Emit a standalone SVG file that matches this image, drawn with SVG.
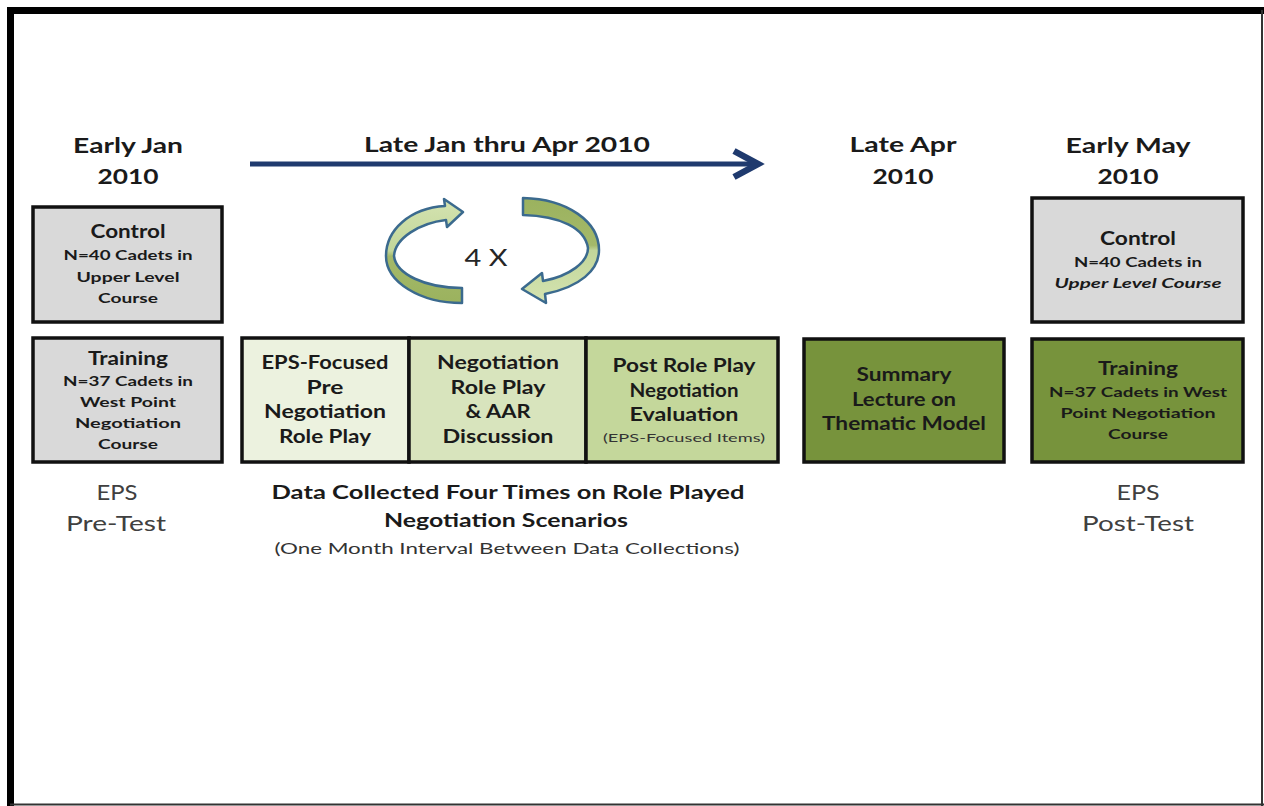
<svg xmlns="http://www.w3.org/2000/svg" width="1264" height="806" viewBox="0 0 1264 806">
<style>
  text { font-family: Lato, "Open Sans", "Liberation Sans", sans-serif; text-anchor: middle; fill: #1a1a1a; }
  .hdr { font-size: 21px; font-weight: bold; }
  .ttl { font-size: 18px; font-weight: bold; }
  .sub { font-size: 13px; font-weight: bold; }
  .eps { font-size: 22px; fill: #404040; }
  .cap { font-size: 18px; font-weight: bold; }
  .note { font-size: 15px; fill: #333; }
  .tiny { font-size: 12px; fill: #333; }
  .box { stroke: #111; stroke-width: 3.5; }
  .gray { fill: #d9d9d9; }
  .olive { fill: #77933c; }
  .ribbon { stroke: #3b6a8e; stroke-width: 2.5; stroke-linejoin: round; }
</style>
<defs>
  <linearGradient id="gL" x1="0" y1="0" x2="0" y2="1">
    <stop offset="0" stop-color="#d4e3b0"/>
    <stop offset="0.5" stop-color="#c2d69a"/>
    <stop offset="0.55" stop-color="#a4b96a"/>
    <stop offset="1" stop-color="#9bb25e"/>
  </linearGradient>
  <linearGradient id="gR" x1="0" y1="0" x2="0" y2="1">
    <stop offset="0" stop-color="#9bb25e"/>
    <stop offset="0.45" stop-color="#a4b96a"/>
    <stop offset="0.5" stop-color="#c2d69a"/>
    <stop offset="1" stop-color="#d4e3b0"/>
  </linearGradient>
</defs>
<rect x="0" y="0" width="1264" height="806" fill="#ffffff"/>
<g id="frame">
  <line x1="7" y1="10.5" x2="1264" y2="10.5" stroke="#000" stroke-width="7"/>
  <line x1="10.5" y1="7" x2="10.5" y2="806" stroke="#000" stroke-width="7"/>
  <line x1="1262" y1="10" x2="1262" y2="806" stroke="#333" stroke-width="2"/>
  <line x1="10" y1="804.5" x2="1264" y2="804.5" stroke="#333" stroke-width="2"/>
</g>
<g id="headers">
  <text class="hdr" x="128" y="153" textLength="110" lengthAdjust="spacingAndGlyphs">Early Jan</text>
  <text class="hdr" x="128" y="184" textLength="61" lengthAdjust="spacingAndGlyphs">2010</text>
  <text class="hdr" x="507" y="152" textLength="286" lengthAdjust="spacingAndGlyphs">Late Jan thru Apr 2010</text>
  <text class="hdr" x="903" y="152" textLength="107" lengthAdjust="spacingAndGlyphs">Late Apr</text>
  <text class="hdr" x="903" y="184" textLength="61" lengthAdjust="spacingAndGlyphs">2010</text>
  <text class="hdr" x="1128" y="153" textLength="125" lengthAdjust="spacingAndGlyphs">Early May</text>
  <text class="hdr" x="1128" y="184" textLength="61" lengthAdjust="spacingAndGlyphs">2010</text>
</g>
<g id="connectors">
  <line x1="250" y1="164" x2="752" y2="164" stroke="#1f3a6e" stroke-width="5"/>
  <polyline points="734,151 758,164 734,177" fill="none" stroke="#1f3a6e" stroke-width="6.5"/>
</g>
<g id="cycle">
  <path class="ribbon" fill="url(#gL)" d="M462 288 C425 288 396 274 394 256 C395 238 420 223 446 220 L447 227 L463 212 L444 199 L445 206 C410 208 386 230 386 256 C386 282 420 303 462 303 Z"/>
  <path class="ribbon" fill="url(#gR)" d="M523 198 C568 199 599 222 599 250 C599 270 580 287 545 294 L546 303 L522 289 L542 273 L543 281 C570 276 588 262 588 248 C585 228 560 216 523 215 Z"/>
  <text x="486" y="266" style="font-size:24px;fill:#262626" textLength="43" lengthAdjust="spacingAndGlyphs">4 X</text>
</g>
<g id="control-pre">
  <rect class="box gray" x="33" y="207" width="189" height="115"/>
  <text class="ttl" x="128" y="238" textLength="75" lengthAdjust="spacingAndGlyphs">Control</text>
  <text class="sub" x="128" y="260" textLength="129" lengthAdjust="spacingAndGlyphs">N=40 Cadets in</text>
  <text class="sub" x="128" y="282" textLength="103" lengthAdjust="spacingAndGlyphs">Upper Level</text>
  <text class="sub" x="128" y="303" textLength="60" lengthAdjust="spacingAndGlyphs">Course</text>
</g>
<g id="training-pre">
  <rect class="box gray" x="33" y="338" width="189" height="124"/>
  <text class="ttl" x="128" y="365" textLength="80" lengthAdjust="spacingAndGlyphs">Training</text>
  <text class="sub" x="128" y="386" textLength="130" lengthAdjust="spacingAndGlyphs">N=37 Cadets in</text>
  <text class="sub" x="128" y="407" textLength="96" lengthAdjust="spacingAndGlyphs">West Point</text>
  <text class="sub" x="128" y="428" textLength="106" lengthAdjust="spacingAndGlyphs">Negotiation</text>
  <text class="sub" x="128" y="449" textLength="60" lengthAdjust="spacingAndGlyphs">Course</text>
</g>
<g id="pre-role-play">
  <rect class="box" fill="#ecf2df" x="242" y="338" width="167" height="124"/>
  <text class="ttl" x="325" y="369" textLength="127" lengthAdjust="spacingAndGlyphs">EPS-Focused</text>
  <text class="ttl" x="325" y="394" textLength="37" lengthAdjust="spacingAndGlyphs">Pre</text>
  <text class="ttl" x="325" y="418" textLength="122" lengthAdjust="spacingAndGlyphs">Negotiation</text>
  <text class="ttl" x="325" y="443" textLength="92" lengthAdjust="spacingAndGlyphs">Role Play</text>
</g>
<g id="role-play">
  <rect class="box" fill="#d8e4bd" x="409" y="338" width="177" height="124"/>
  <text class="ttl" x="498" y="369" textLength="122" lengthAdjust="spacingAndGlyphs">Negotiation</text>
  <text class="ttl" x="498" y="394" textLength="95" lengthAdjust="spacingAndGlyphs">Role Play</text>
  <text class="ttl" x="498" y="418" textLength="65" lengthAdjust="spacingAndGlyphs">&amp; AAR</text>
  <text class="ttl" x="498" y="443" textLength="111" lengthAdjust="spacingAndGlyphs">Discussion</text>
</g>
<g id="post-role-play">
  <rect class="box" fill="#c4d79b" x="586" y="338" width="192" height="124"/>
  <text class="ttl" x="684" y="372" textLength="143" lengthAdjust="spacingAndGlyphs">Post Role Play</text>
  <text class="ttl" x="684" y="397" textLength="109" lengthAdjust="spacingAndGlyphs">Negotiation</text>
  <text class="ttl" x="684" y="421" textLength="109" lengthAdjust="spacingAndGlyphs">Evaluation</text>
  <text class="tiny" x="684" y="442" textLength="162" lengthAdjust="spacingAndGlyphs">(EPS-Focused Items)</text>
</g>
<g id="summary-lecture">
  <rect class="box olive" x="804" y="339" width="200" height="123"/>
  <text class="ttl" x="904" y="381" textLength="95" lengthAdjust="spacingAndGlyphs">Summary</text>
  <text class="ttl" x="904" y="406" textLength="104" lengthAdjust="spacingAndGlyphs">Lecture on</text>
  <text class="ttl" x="904" y="430" textLength="164" lengthAdjust="spacingAndGlyphs">Thematic Model</text>
</g>
<g id="control-post">
  <rect class="box gray" x="1032" y="198" width="211" height="124"/>
  <text class="ttl" x="1138" y="245" textLength="76" lengthAdjust="spacingAndGlyphs">Control</text>
  <text class="sub" x="1138" y="267" textLength="128" lengthAdjust="spacingAndGlyphs">N=40 Cadets in</text>
  <text class="sub" x="1138" y="288" font-style="italic" textLength="167" lengthAdjust="spacingAndGlyphs">Upper Level Course</text>
</g>
<g id="training-post">
  <rect class="box olive" x="1032" y="339" width="211" height="123"/>
  <text class="ttl" x="1138" y="375" textLength="80" lengthAdjust="spacingAndGlyphs">Training</text>
  <text class="sub" x="1138" y="397" textLength="178" lengthAdjust="spacingAndGlyphs">N=37 Cadets in West</text>
  <text class="sub" x="1138" y="418" textLength="155" lengthAdjust="spacingAndGlyphs">Point Negotiation</text>
  <text class="sub" x="1138" y="439" textLength="60" lengthAdjust="spacingAndGlyphs">Course</text>
</g>
<g id="pre-test">
  <text class="eps" x="117" y="500" textLength="41" lengthAdjust="spacingAndGlyphs">EPS</text>
  <text class="eps" x="116" y="531" textLength="100" lengthAdjust="spacingAndGlyphs">Pre-Test</text>
</g>
<g id="post-test">
  <text class="eps" x="1138" y="500" textLength="43" lengthAdjust="spacingAndGlyphs">EPS</text>
  <text class="eps" x="1138" y="531" textLength="112" lengthAdjust="spacingAndGlyphs">Post-Test</text>
</g>
<g id="data-caption">
  <text class="cap" x="508" y="499" textLength="473" lengthAdjust="spacingAndGlyphs">Data Collected Four Times on Role Played</text>
  <text class="cap" x="506" y="527" textLength="244" lengthAdjust="spacingAndGlyphs">Negotiation Scenarios</text>
  <text class="note" x="507" y="554" textLength="465" lengthAdjust="spacingAndGlyphs">(One Month Interval Between Data Collections)</text>
</g>
</svg>
